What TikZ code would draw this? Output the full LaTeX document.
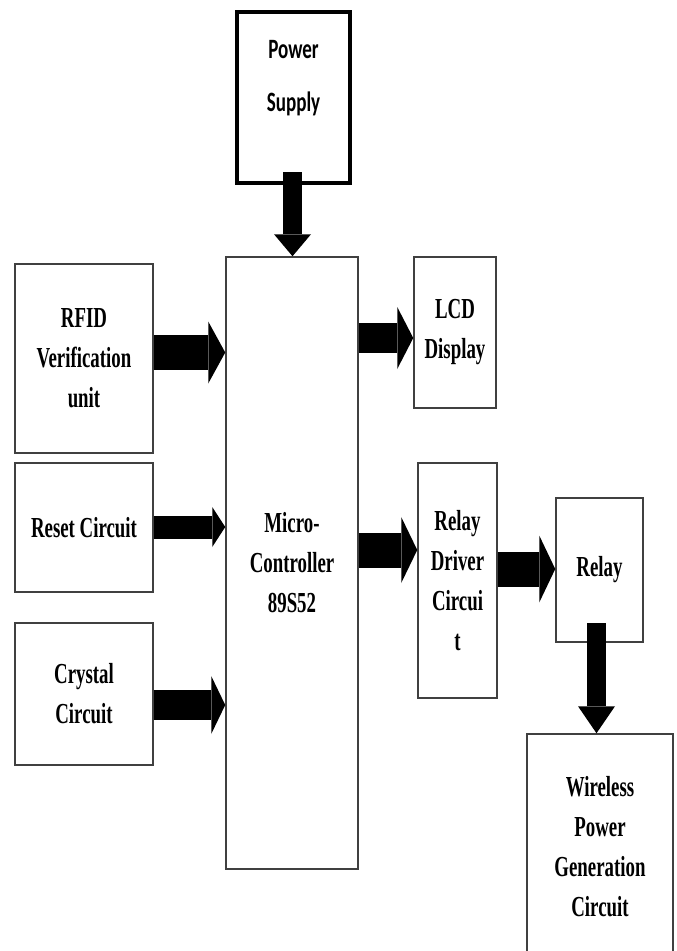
\documentclass[tikz,border=0pt]{standalone}
\usepackage{fontspec}
\setmainfont{Liberation Serif}
\newfontfamily\tnrfont[FakeStretch=0.65]{Liberation Serif}
\newfontfamily\psfont[FakeStretch=0.68]{Carlito}
\usetikzlibrary{arrows.meta}
\begin{document}
\begin{tikzpicture}[x=1pt,y=-1pt,
  box/.style={draw=black!75, line width=1.5pt, fill=white, inner sep=0pt, align=center,
    font=\tnrfont\bfseries\fontsize{29}{40}\selectfont},
  barrow/.style n args={3}{draw=black, line width=#1,
    -{Triangle[width=#2, length=#3, line width=0pt]}}]
\useasboundingbox (0,0) rectangle (677,951);

% boxes
\node[draw=black, line width=3.5pt, fill=white, minimum width=113pt, minimum height=171pt, inner sep=0pt,
  label={[font=\psfont\bfseries\fontsize{28}{53}\selectfont, align=center, yshift=19pt]center:Power\\Supply}]
  (ps) at (293.5,97.5) {};
\node[box, minimum width=132pt, minimum height=612pt] (mc) at (292,563) {Micro-\\Controller\\89S52};
\node[box, minimum width=138pt, minimum height=189pt] (rfid) at (84,358.5) {RFID\\Verification\\unit};
\node[box, minimum width=138pt, minimum height=129pt] (reset) at (84,527.5) {Reset Circuit};
\node[box, minimum width=138pt, minimum height=142pt] (xtal) at (84,694) {Crystal\\Circuit};
\node[box, minimum width=82pt, minimum height=151pt] (lcd) at (455,332.5) {LCD\\Display};
\node[box, minimum width=79pt, minimum height=235pt] (drv) at (457.5,580.5) {Relay\\Driver\\Circui\\t};
\node[box, minimum width=87pt, minimum height=144pt] (rly) at (599.5,570) {Relay};
\node[box, minimum width=146pt, minimum height=226pt] (wl) at (600,847) {Wireless\\Power\\Generation\\Circuit};

% arrow guide coordinates
\coordinate (ya) at (0,352.5);
\coordinate (yb) at (0,527);
\coordinate (yc) at (0,705);
\coordinate (yd) at (0,338);
\coordinate (ye) at (0,550);
\coordinate (yf) at (0,569);
\coordinate (pstart) at (292.5,172);
\coordinate (rstart) at (596.5,623);

% block arrows
\draw[barrow={19pt}{37pt}{22pt}] (pstart) -- (mc.north -| pstart);
\draw[barrow={35pt}{62pt}{17pt}] (rfid.east |- ya) -- (mc.west |- ya);
\draw[barrow={23pt}{40pt}{13pt}] (reset.east |- yb) -- (mc.west |- yb);
\draw[barrow={30pt}{58pt}{14pt}] (xtal.east |- yc) -- (mc.west |- yc);
\draw[barrow={30pt}{62pt}{16pt}] (mc.east |- yd) -- (lcd.west |- yd);
\draw[barrow={35pt}{66pt}{16pt}] (mc.east |- ye) -- (drv.west |- ye);
\draw[barrow={35pt}{67pt}{16pt}] (drv.east |- yf) -- (rly.west |- yf);
\draw[barrow={19pt}{37pt}{27pt}] (rstart) -- (wl.north -| rstart);
\end{tikzpicture}
\end{document}
